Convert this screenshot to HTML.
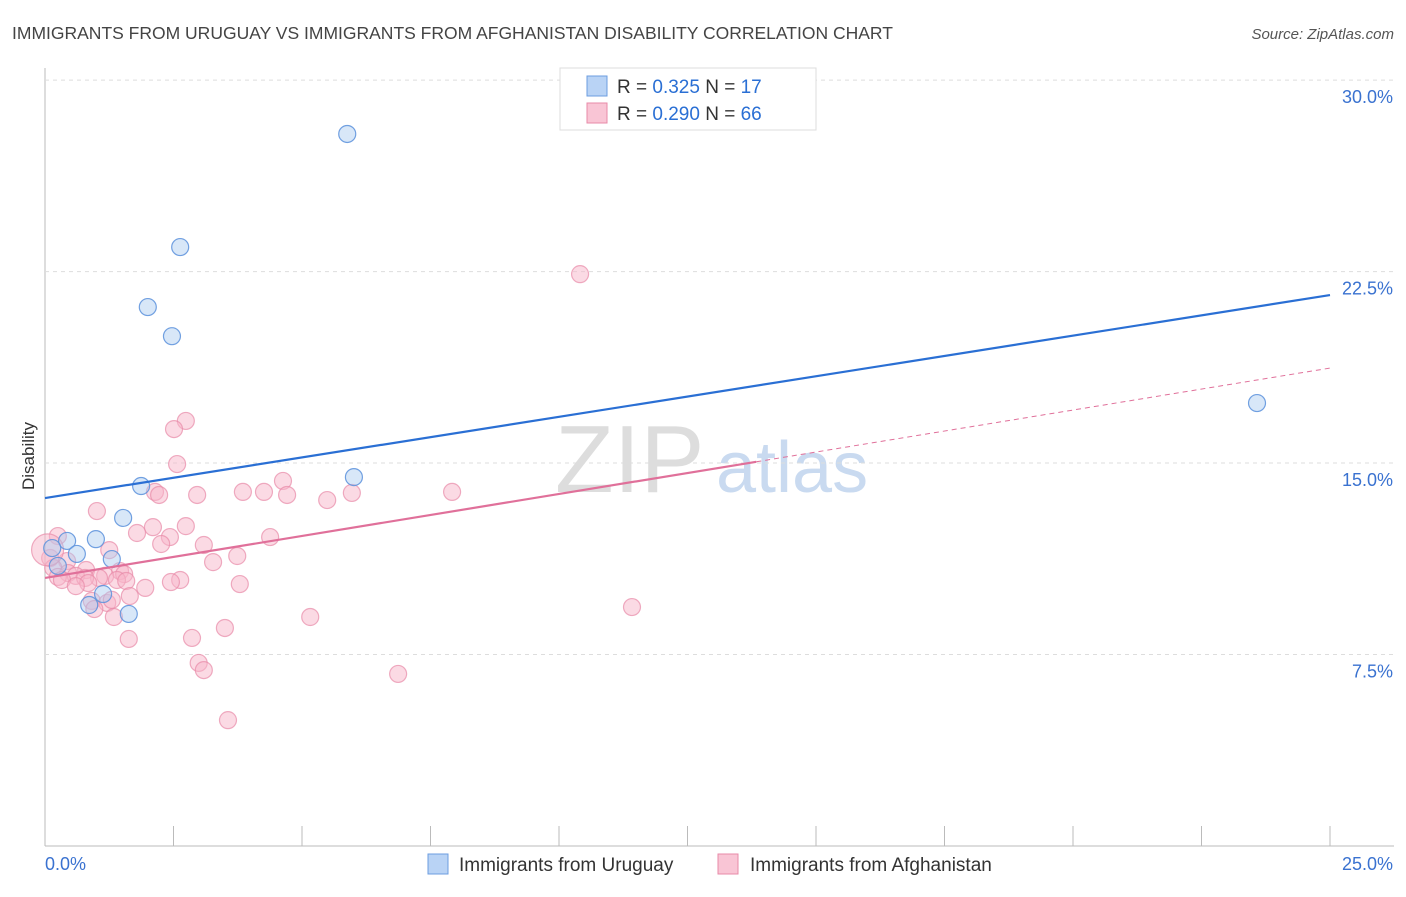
<!DOCTYPE html>
<html><head><meta charset="utf-8"><style>
body{margin:0;background:#fff;font-family:"Liberation Sans",sans-serif}
svg text{font-family:"Liberation Sans",sans-serif}
</style></head><body>
<svg id="c" width="1406" height="892">
<text x="12" y="39" font-size="17.5" fill="#444">IMMIGRANTS FROM URUGUAY VS IMMIGRANTS FROM AFGHANISTAN DISABILITY CORRELATION CHART</text>
<text x="1394" y="39" font-size="15" fill="#555" font-style="italic" text-anchor="end">Source: ZipAtlas.com</text>
<text x="34" y="456" font-size="17" fill="#333" transform="rotate(-90 34 456)" text-anchor="middle">Disability</text>
<text x="555" y="492" font-size="96" fill="#ddd" font-family="Liberation Serif">ZIP</text>
<text x="716" y="492" font-size="72" fill="#c9daf0">atlas</text>
<g id="grid"></g><g id="pts"></g><g id="lines"></g>
<g>
<rect x="560" y="68" width="256" height="62" fill="#fff" stroke="#ddd"/>
<rect x="587" y="76" width="20" height="20" fill="#b9d3f5" stroke="#6c9ee0"/>
<text x="617" y="93" font-size="19" fill="#333">R = <tspan fill="#2a6fd4">0.325</tspan>   N =  <tspan fill="#2a6fd4">17</tspan></text>
<rect x="587" y="103" width="20" height="20" fill="#f9c5d5" stroke="#e88aa8"/>
<text x="617" y="120" font-size="19" fill="#333">R = <tspan fill="#2a6fd4">0.290</tspan>   N = <tspan fill="#2a6fd4">66</tspan></text>
</g>
<g>
<rect x="428" y="854" width="20" height="20" fill="#b9d3f5" stroke="#6c9ee0"/>
<text x="459" y="871" font-size="19" fill="#333">Immigrants from Uruguay</text>
<rect x="718" y="854" width="20" height="20" fill="#f9c5d5" stroke="#e88aa8"/>
<text x="750" y="871" font-size="19" fill="#333">Immigrants from Afghanistan</text>
</g>
</svg>
<script>
const yTicks=[7.5,15,22.5,30];
const yTickLabels=["7.5%","15.0%","22.5%","30.0%"];
const xTickVals=[0,2.5,5,7.5,10,12.5,15,17.5,20,22.5,25];
const uruX=[5.88,2.63,2.00,2.47,23.58,6.01,1.87,1.52,0.99,0.43,0.62,1.30,0.14,0.25,1.13,0.86,1.63];
const uruY=[27.89,23.46,21.11,19.97,17.35,14.45,14.10,12.85,12.02,11.95,11.44,11.24,11.67,10.97,9.87,9.44,9.09];
const afgX=[10.41,2.74,2.51,2.57,4.63,2.14,2.22,2.96,3.85,4.26,4.71,5.49,5.97,7.92,1.01,2.10,2.74,1.79,2.43,0.25,4.38,2.26,3.09,1.25,3.74,0.10,0.43,3.27,0.16,0.80,1.46,0.45,0.60,1.17,0.25,1.54,1.05,0.78,1.40,1.58,2.63,0.84,0.33,2.45,0.60,3.79,1.95,1.65,0.91,1.21,1.30,0.96,11.42,1.34,5.16,3.50,2.86,1.63,2.99,3.09,6.87,3.56,0.05];
const afgY=[22.40,16.65,16.33,14.96,14.30,13.87,13.75,13.75,13.87,13.87,13.75,13.55,13.83,13.87,13.12,12.49,12.53,12.26,12.10,12.14,12.10,11.83,11.79,11.59,11.36,11.28,11.16,11.12,10.89,10.81,10.77,10.69,10.58,10.58,10.54,10.65,10.50,10.50,10.42,10.38,10.42,10.30,10.42,10.34,10.18,10.26,10.11,9.79,9.60,9.52,9.64,9.28,9.36,8.97,8.97,8.54,8.15,8.11,7.17,6.89,6.74,4.93,11.6];
const uruLine=[13.63,21.58];
const afgLine=[10.50,18.72];
const afgSolidEnd=15.05;
const X0=45,X1=1330,Y0=846,YPX=25.53;
const xs=v=>X0+(X1-X0)*v/25;
const ys=v=>Y0-v*YPX;
const NS="http://www.w3.org/2000/svg";
function mk(tag,attrs,parent){const e=document.createElementNS(NS,tag);for(const k in attrs)e.setAttribute(k,attrs[k]);document.getElementById(parent).appendChild(e);return e;}
const ax=mk('line',{x1:X0,y1:68,x2:X0,y2:Y0,stroke:'#bbb'},'grid');


const bx=mk('line',{x1:X0,y1:Y0,x2:1394,y2:Y0,stroke:'#bbb'},'grid');


yTicks.forEach((t,i)=>{
 const g=mk('line',{x1:X0,x2:1394,y1:ys(t),y2:ys(t),stroke:'#ddd','stroke-dasharray':'4,4'},'grid');
 
 
 const l=mk('text',{x:1393,y:ys(t)+23,'font-size':18,fill:'#3a72d0','text-anchor':'end'},'grid');
 l.textContent=yTickLabels[i];
 
 
});
xTickVals.forEach(t=>{
 const k=mk('line',{x1:xs(t),x2:xs(t),y1:Y0,y2:Y0-20,stroke:'#bbb'},'grid');
 
 
});
const xl0=mk('text',{x:45,y:870,'font-size':18,fill:'#3a72d0'},'grid');xl0.textContent='0.0%';


const xl1=mk('text',{x:1393,y:870,'font-size':18,fill:'#3a72d0','text-anchor':'end'},'grid');xl1.textContent='25.0%';


afgX.forEach((x,i)=>{
 const c=mk('circle',{cx:xs(x),cy:ys(afgY[i]),r:i==afgX.length-1?16:8.5,fill:'#f7b6c9','fill-opacity':0.5,stroke:'#e88aa8','stroke-opacity':0.7,'stroke-width':1.2},'pts');
 
 
});
uruX.forEach((x,i)=>{
 const c=mk('circle',{cx:xs(x),cy:ys(uruY[i]),r:8.5,fill:'#a9c9f0','fill-opacity':0.45,stroke:'#5a90dc','stroke-opacity':0.85,'stroke-width':1.2},'pts');
 
 
});
const ly=x=>afgLine[0]+(afgLine[1]-afgLine[0])*x/25;
const solidX=(afgSolidEnd-afgLine[0])/(afgLine[1]-afgLine[0])*25;
const p1=mk('line',{x1:xs(0),y1:ys(afgLine[0]),x2:xs(solidX),y2:ys(ly(solidX)),stroke:'#e0709a','stroke-width':2.2},'lines');


const p2=mk('line',{x1:xs(solidX),y1:ys(ly(solidX)),x2:xs(25),y2:ys(afgLine[1]),stroke:'#e0709a','stroke-width':1,'stroke-dasharray':'5,4'},'lines');


const b1=mk('line',{x1:xs(0),y1:ys(uruLine[0]),x2:xs(25),y2:ys(uruLine[1]),stroke:'#2a6fd4','stroke-width':2.2},'lines');


</script>
</body></html>
